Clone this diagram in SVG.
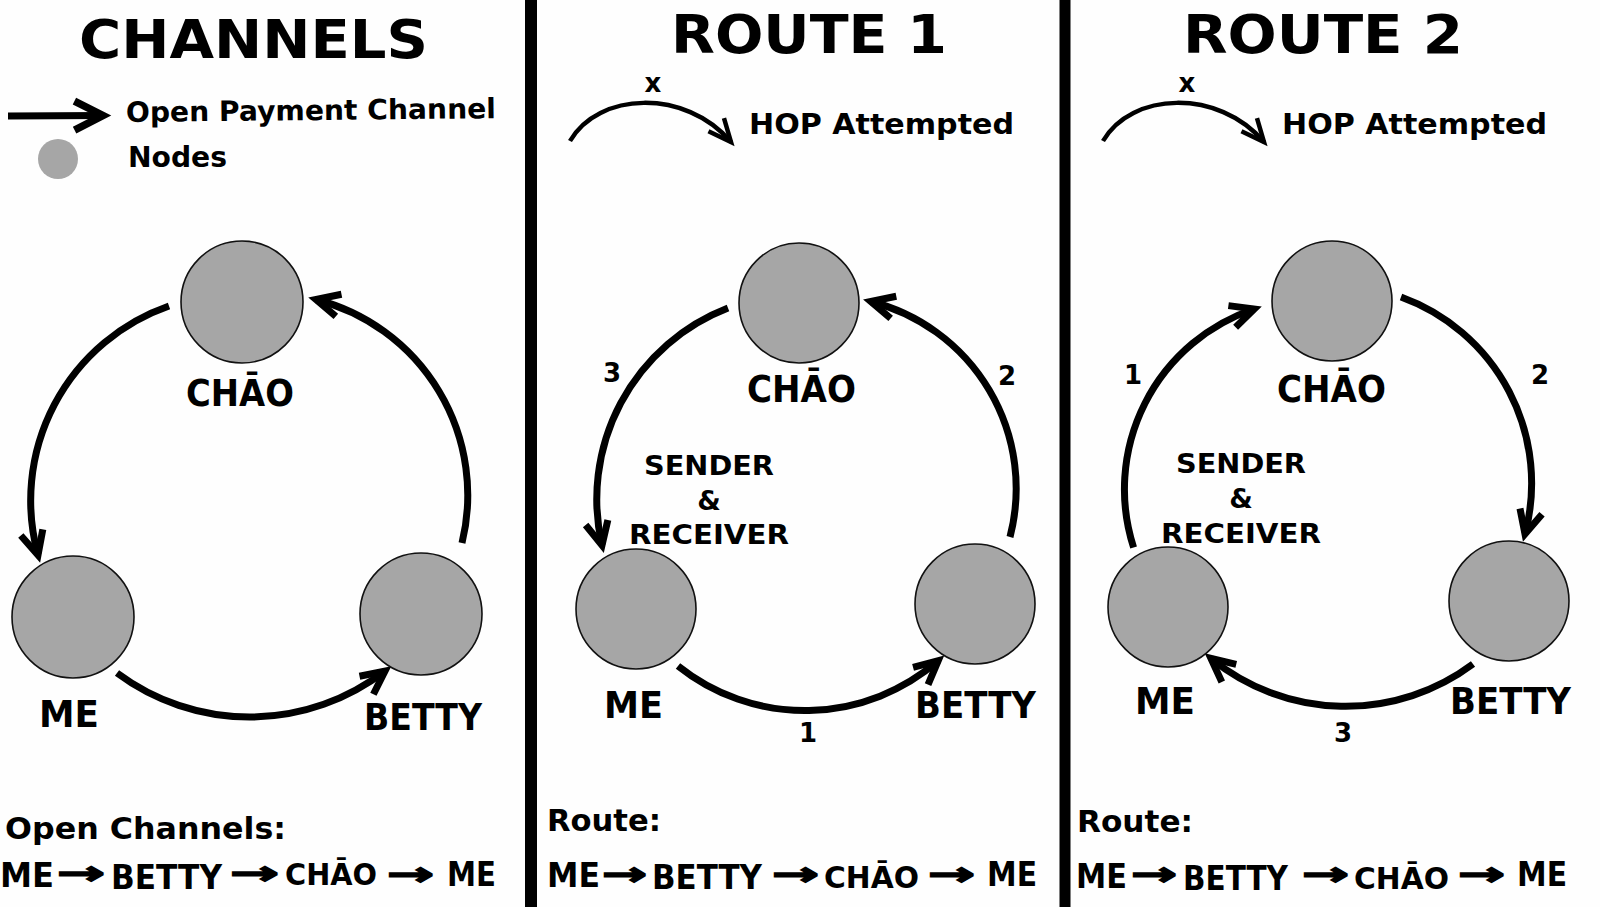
<svg xmlns="http://www.w3.org/2000/svg" width="1600" height="907" viewBox="0 0 1600 907">
<style>
  text { font-family: "DejaVu Sans", "Verdana", sans-serif; font-weight: bold; fill: #000; }
  .title { font-size: 54px; }
  .legend { font-size: 28px; }
  .lbl { font-size: 37px; }
  .num { font-size: 26px; text-anchor: middle; }
  .sr { font-size: 27px; text-anchor: middle; }
  .hop { font-size: 28px; }
  .hx { font-size: 26px; text-anchor: middle; }
  .bt { font-size: 31px; }
  .row { font-size: 34px; }
  .rowc { font-size: 31px; }
  .rowb { font-size: 33px; }
  .arw { font-size: 32px; stroke: #000; stroke-width: 1.6px; }
  .node circle { fill: #a6a6a6; stroke: #111; stroke-width: 1.6; }
  .conn path { fill: none; stroke: #000; stroke-width: 7; }
  .conn path.h { stroke-width: 4.5; }
</style>
<defs>
  <marker id="ah" markerUnits="userSpaceOnUse" viewBox="-30 -16 42 32" markerWidth="42" markerHeight="32" refX="0" refY="0" orient="auto" overflow="visible">
    <path d="M-23.4,-11.4 L0,0 L-23.4,11.4" fill="none" stroke="#000" stroke-width="7" stroke-linejoin="miter"/>
  </marker>
  <marker id="ahh" markerUnits="userSpaceOnUse" viewBox="-30 -16 42 32" markerWidth="42" markerHeight="32" refX="0" refY="0" orient="auto" overflow="visible">
    <path d="M-22.8,-10.2 L0,0 L-22.8,10.2" fill="none" stroke="#000" stroke-width="4.5" stroke-linejoin="miter"/>
  </marker>
  <marker id="ahl" markerUnits="userSpaceOnUse" viewBox="-34 -18 48 36" markerWidth="48" markerHeight="36" refX="0" refY="0" orient="auto" overflow="visible">
    <path d="M-28.5,-14.5 L0,0 L-28.5,14.5" fill="none" stroke="#000" stroke-width="7.5" stroke-linejoin="miter"/>
  </marker>
</defs>
<rect x="0" y="0" width="1600" height="907" fill="#fefefe"/>

<!-- dividers -->
<g id="dividers">
  <rect x="525" y="0" width="12" height="907" fill="#000"/>
  <rect x="1059.5" y="0" width="11" height="907" fill="#000"/>
</g>

<!-- titles and legend -->
<g id="titles">
  <text class="title" x="79" y="58" textLength="349" lengthAdjust="spacingAndGlyphs">CHANNELS</text>
  <text class="title" x="671" y="53" textLength="276" lengthAdjust="spacingAndGlyphs">ROUTE 1</text>
  <text class="title" x="1183" y="53" textLength="280" lengthAdjust="spacingAndGlyphs">ROUTE 2</text>
</g>
<g id="legend">
  <text class="legend" x="126" y="122" textLength="370" lengthAdjust="spacingAndGlyphs" transform="rotate(-0.6 126 122)">Open Payment Channel</text>
  <circle cx="58" cy="159" r="20" fill="#a6a6a6"/>
  <text class="legend" x="128" y="167" textLength="99" lengthAdjust="spacingAndGlyphs">Nodes</text>
</g>
<g id="hop-legend-1">
  <text class="hx" x="653" y="92">x</text>
  <text class="hop" x="749" y="134" textLength="265" lengthAdjust="spacingAndGlyphs">HOP Attempted</text>
</g>
<g id="hop-legend-2">
  <text class="hx" x="1187" y="92">x</text>
  <text class="hop" x="1282" y="134" textLength="265" lengthAdjust="spacingAndGlyphs">HOP Attempted</text>
</g>

<!-- connectors -->
<g id="connectors" class="conn">
  <path d="M8,116 L103,115.5" stroke-width="8" marker-end="url(#ahl)"/>
  <path class="h" d="M570,141 C598,92 685,88 731,142" marker-end="url(#ahh)"/>
  <path class="h" d="M1103,141 C1131,92 1218,88 1264,142" marker-end="url(#ahh)"/>
  <!-- panel 1 -->
  <path d="M169,306 A206,206 0 0 0 38,555" marker-end="url(#ah)"/>
  <path d="M462,543 A202,202 0 0 0 316,299.5" marker-end="url(#ah)"/>
  <path d="M117,673 A222,222 0 0 0 385,671" marker-end="url(#ah)"/>
  <!-- panel 2 -->
  <path d="M678,666 A203,203 0 0 0 938.2,660.7" marker-end="url(#ah)"/>
  <path d="M1010,537 A193,193 0 0 0 870.8,301.5" marker-end="url(#ah)"/>
  <path d="M728,308 A205,205 0 0 0 602,545.3" marker-end="url(#ah)"/>
  <!-- panel 3 -->
  <path d="M1133.6,547.5 A190,190 0 0 1 1254.2,309" marker-end="url(#ah)"/>
  <path d="M1401,297 A198,198 0 0 1 1525,534" marker-end="url(#ah)"/>
  <path d="M1473,664 A213,213 0 0 1 1210.9,658.4" marker-end="url(#ah)"/>
</g>

<!-- panel 1 nodes -->
<g id="p1-chao" class="node"><circle cx="242" cy="302" r="61"/><text class="lbl" x="186" y="406" textLength="108" lengthAdjust="spacingAndGlyphs">CHĀO</text></g>
<g id="p1-me" class="node"><circle cx="73" cy="617" r="61"/><text class="lbl" x="39" y="727" textLength="60" lengthAdjust="spacingAndGlyphs">ME</text></g>
<g id="p1-betty" class="node"><circle cx="421" cy="614" r="61"/><text class="lbl" x="364" y="730" textLength="118" lengthAdjust="spacingAndGlyphs">BETTY</text></g>

<!-- panel 2 nodes -->
<g id="p2-chao" class="node"><circle cx="799" cy="303" r="60"/><text class="lbl" x="747" y="402" textLength="109" lengthAdjust="spacingAndGlyphs">CHĀO</text></g>
<g id="p2-me" class="node"><circle cx="636" cy="609" r="60"/><text class="lbl" x="604" y="718" textLength="59" lengthAdjust="spacingAndGlyphs">ME</text></g>
<g id="p2-betty" class="node"><circle cx="975" cy="604" r="60"/><text class="lbl" x="915" y="718" textLength="121" lengthAdjust="spacingAndGlyphs">BETTY</text></g>
<g id="p2-labels">
  <text class="num" x="612" y="382">3</text>
  <text class="num" x="1007" y="385">2</text>
  <text class="num" x="808" y="742">1</text>
  <text class="sr" x="709" y="475" textLength="130" lengthAdjust="spacingAndGlyphs">SENDER</text>
  <text class="sr" x="709" y="510">&amp;</text>
  <text class="sr" x="709" y="544" textLength="160" lengthAdjust="spacingAndGlyphs">RECEIVER</text>
</g>

<!-- panel 3 nodes -->
<g id="p3-chao" class="node"><circle cx="1332" cy="301" r="60"/><text class="lbl" x="1277" y="402" textLength="109" lengthAdjust="spacingAndGlyphs">CHĀO</text></g>
<g id="p3-me" class="node"><circle cx="1168" cy="607" r="60"/><text class="lbl" x="1135" y="714" textLength="60" lengthAdjust="spacingAndGlyphs">ME</text></g>
<g id="p3-betty" class="node"><circle cx="1509" cy="601" r="60"/><text class="lbl" x="1450" y="714" textLength="121" lengthAdjust="spacingAndGlyphs">BETTY</text></g>
<g id="p3-labels">
  <text class="num" x="1133" y="384">1</text>
  <text class="num" x="1540" y="384">2</text>
  <text class="num" x="1343" y="742">3</text>
  <text class="sr" x="1241" y="473" textLength="130" lengthAdjust="spacingAndGlyphs">SENDER</text>
  <text class="sr" x="1241" y="508">&amp;</text>
  <text class="sr" x="1241" y="543" textLength="160" lengthAdjust="spacingAndGlyphs">RECEIVER</text>
</g>

<!-- bottom texts -->
<g id="p1-bottom">
  <text class="bt" x="5" y="839" textLength="281" lengthAdjust="spacingAndGlyphs">Open Channels:</text>
  <text class="row" x="0" y="887" textLength="54" lengthAdjust="spacingAndGlyphs">ME</text>
  <text class="arw" x="57" y="884" textLength="48" lengthAdjust="spacingAndGlyphs">→</text>
  <text class="rowb" x="111" y="889" textLength="111" lengthAdjust="spacingAndGlyphs">BETTY</text>
  <text class="arw" x="230" y="884" textLength="49" lengthAdjust="spacingAndGlyphs">→</text>
  <text class="rowc" x="285" y="885" textLength="92" lengthAdjust="spacingAndGlyphs">CHĀO</text>
  <text class="arw" x="387" y="885" textLength="47" lengthAdjust="spacingAndGlyphs">→</text>
  <text class="row" x="447" y="886" textLength="49" lengthAdjust="spacingAndGlyphs">ME</text>
</g>
<g id="p2-bottom">
  <text class="bt" x="547" y="831" textLength="114" lengthAdjust="spacingAndGlyphs">Route:</text>
  <text class="row" x="547" y="887" textLength="53" lengthAdjust="spacingAndGlyphs">ME</text>
  <text class="arw" x="602" y="885" textLength="45" lengthAdjust="spacingAndGlyphs">→</text>
  <text class="rowb" x="652" y="889" textLength="110" lengthAdjust="spacingAndGlyphs">BETTY</text>
  <text class="arw" x="772" y="885" textLength="47" lengthAdjust="spacingAndGlyphs">→</text>
  <text class="rowc" x="824" y="888" textLength="95" lengthAdjust="spacingAndGlyphs">CHĀO</text>
  <text class="arw" x="928" y="885" textLength="47" lengthAdjust="spacingAndGlyphs">→</text>
  <text class="row" x="987" y="886" textLength="50" lengthAdjust="spacingAndGlyphs">ME</text>
</g>
<g id="p3-bottom">
  <text class="bt" x="1077" y="832" textLength="116" lengthAdjust="spacingAndGlyphs">Route:</text>
  <text class="row" x="1076" y="888" textLength="51" lengthAdjust="spacingAndGlyphs">ME</text>
  <text class="arw" x="1131" y="885" textLength="46" lengthAdjust="spacingAndGlyphs">→</text>
  <text class="rowb" x="1183" y="890" textLength="105" lengthAdjust="spacingAndGlyphs">BETTY</text>
  <text class="arw" x="1302" y="885" textLength="47" lengthAdjust="spacingAndGlyphs">→</text>
  <text class="rowc" x="1354" y="889" textLength="95" lengthAdjust="spacingAndGlyphs">CHĀO</text>
  <text class="arw" x="1458" y="885" textLength="47" lengthAdjust="spacingAndGlyphs">→</text>
  <text class="row" x="1517" y="886" textLength="50" lengthAdjust="spacingAndGlyphs">ME</text>
</g>
</svg>
